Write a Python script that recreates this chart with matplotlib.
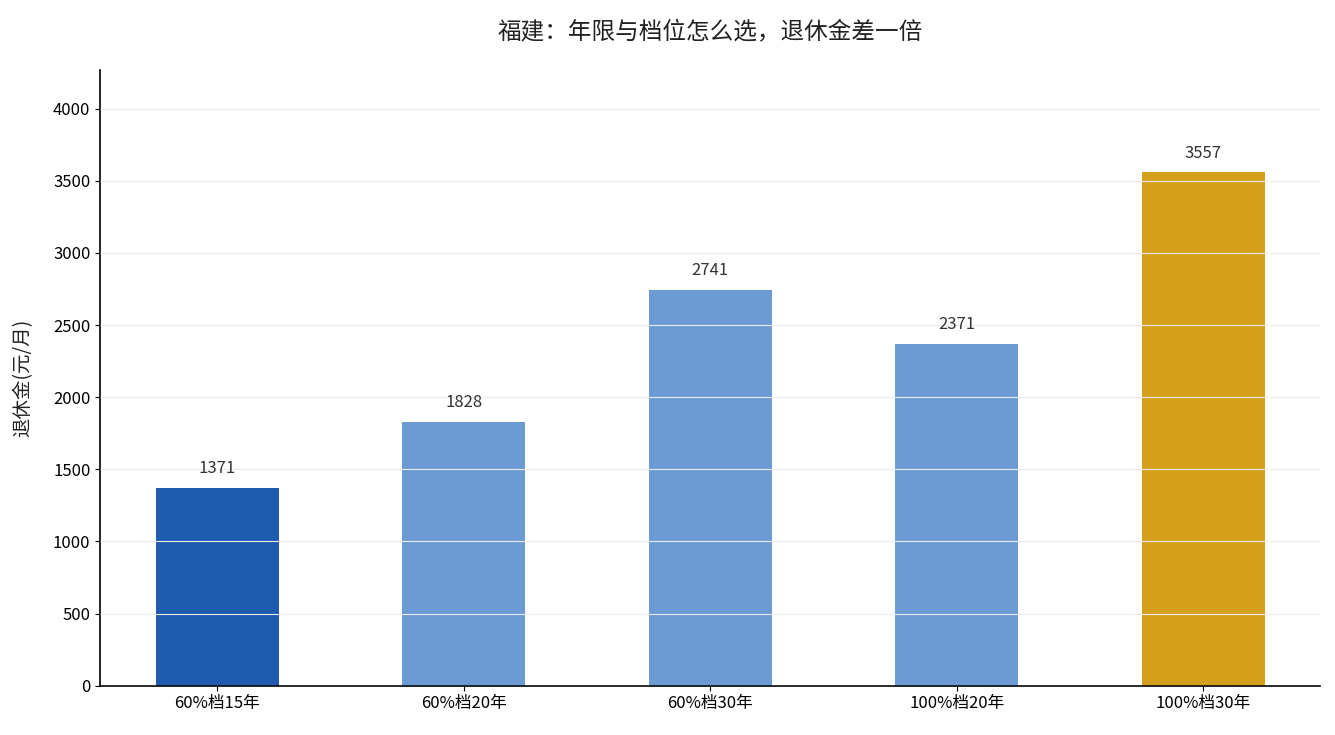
import matplotlib
matplotlib.use('Agg')
import matplotlib.pyplot as plt

plt.rcParams['font.family'] = ['Noto Sans CJK SC', 'DejaVu Sans']
plt.rcParams['axes.unicode_minus'] = False

categories = ['60%档15年', '60%档20年', '60%档30年', '100%档20年', '100%档30年']
pensions = [1371, 1828, 2741, 2371, 3557]
colors = ['#1f5baf', '#6b9bd2', '#6b9bd2', '#6b9bd2', '#d4a01b']


def main():
    fig, ax = plt.subplots(figsize=(13.35, 7.35), dpi=100)
    x = range(len(categories))
    ax.bar(x, pensions, width=0.5, color=colors, zorder=1)
    for i, v in enumerate(pensions):
        ax.text(i, v + 75, str(v), ha='center', va='bottom', fontsize=12, color='#333333')

    ax.set_xticks(list(x))
    ax.set_xticklabels(categories, fontsize=12)
    ax.tick_params(axis='y', labelsize=12)
    ax.set_ylim(0, max(pensions) * 1.2)
    ax.set_ylabel('退休金(元/月)', fontsize=14, labelpad=14, color='#222222')
    ax.set_title('福建：年限与档位怎么选，退休金差一倍', fontsize=17, pad=22, color='#222222')

    ax.yaxis.grid(True, color='#ececec', linewidth=0.8, zorder=2)
    ax.set_axisbelow(False)
    ax.spines['top'].set_visible(False)
    ax.spines['right'].set_visible(False)
    ax.spines['left'].set_linewidth(1.2)
    ax.spines['bottom'].set_linewidth(1.2)

    fig.subplots_adjust(left=0.075, right=0.989, top=0.905, bottom=0.067)
    fig.savefig('out.png', dpi=100)


if __name__ == "__main__":
    main()
